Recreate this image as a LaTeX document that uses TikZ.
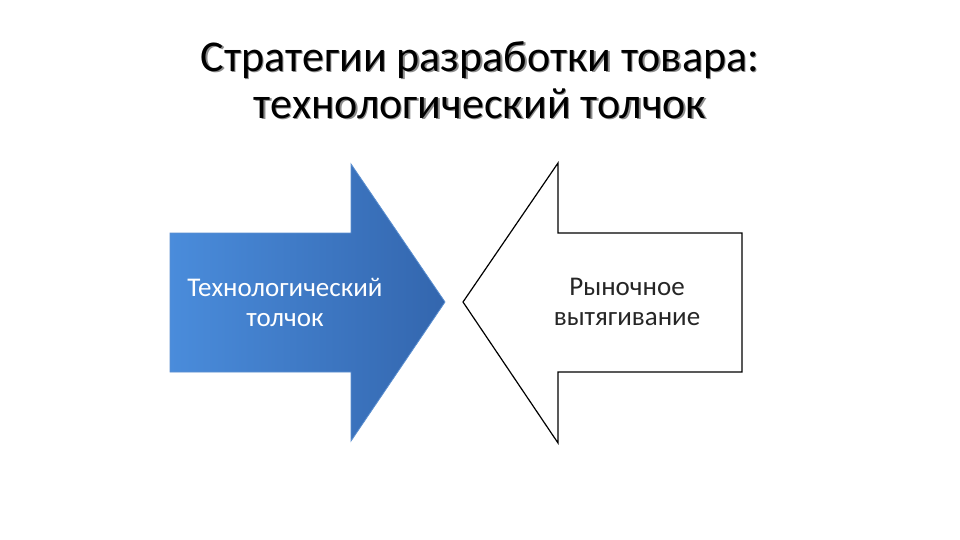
\documentclass[tikz,border=0pt]{standalone}
\usepackage{fontspec}
\setmainfont{Carlito}
\usetikzlibrary{shadings}
\definecolor{blueL}{HTML}{4A8CDB}
\definecolor{blueR}{HTML}{3366AE}
\definecolor{blueE}{HTML}{5B8FD0}
\tikzset{
  titletext/.style={font=\fontsize{44}{47}\selectfont, align=center, text=black},
  shadowtext/.style={font=\fontsize{44}{47}\selectfont, align=center, text=black!45},
  bluearrow/.style={left color=blueL, right color=blueR, draw=blueE, line width=0.8pt, line join=miter},
  whitearrow/.style={fill=white, draw=black, line width=1.2pt, line join=miter},
  labelw/.style={font=\fontsize{27}{30}\selectfont, align=center, text=white},
  labelb/.style={font=\fontsize{27}{30}\selectfont, align=center, text=black!85}
}
\begin{document}
\begin{tikzpicture}[x=1pt,y=-1pt]
\useasboundingbox (0,0) rectangle (960,540);
\fill[white] (0,0) rectangle (960,540);
% title
\node[shadowtext] (tsh) at (481.5,81.5) {Стратегии разработки товара:\\технологический толчок};
\node[titletext] (title) at (480,80) {Стратегии разработки товара:\\технологический толчок};
% left arrow
\path[bluearrow] (170,233) -- (351,233) -- (351,164) -- (445,302) -- (351,441) -- (351,372) -- (170,372) -- cycle;
% right arrow
\path[whitearrow] (742,233) -- (558,233) -- (558,163) -- (463,302) -- (558,443) -- (558,372) -- (742,372) -- cycle;
% labels
\node[labelw] (tech) at (285,302) {Технологический\\толчок};
\node[labelb] (mkt) at (627,302) {Рыночное\\вытягивание};
\end{tikzpicture}
\end{document}
